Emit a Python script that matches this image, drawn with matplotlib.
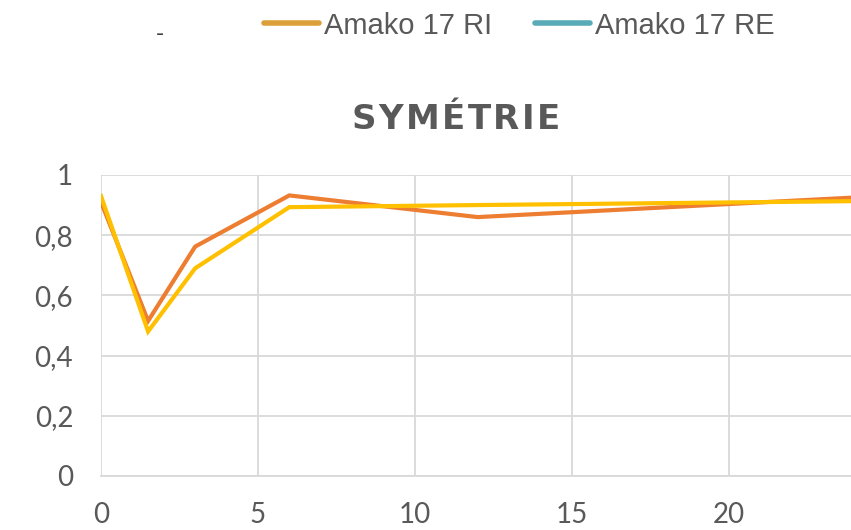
import matplotlib
matplotlib.use("Agg")
import matplotlib.pyplot as plt
from matplotlib.lines import Line2D

# symmetry ratio over time
hours = [0, 1.5, 3, 6, 12, 24]
sym_orange = [0.91, 0.515, 0.762, 0.932, 0.86, 0.925]
sym_yellow = [0.93, 0.48, 0.69, 0.893, 0.90, 0.913]

legend_labels = ["Amako 17 RI", "Amako 17 RE"]
legend_colors = ["#DCA03A", "#5AABB8"]

xticks = [0, 5, 10, 15, 20]
yticks = [0, 0.2, 0.4, 0.6, 0.8, 1.0]
ytick_labels = ["0", "0,2", "0,4", "0,6", "0,8", "1"]

title = "SYMÉTRIE"

grey = "#595959"
grid_c = "#D9D9D9"
W, H = 851, 530

fig = plt.figure(figsize=(W / 100, H / 100), dpi=100)
# plot area runs past the right edge of the canvas
ax = fig.add_axes([0.1187, 0.1019, 0.922, 0.568])

ax.plot(hours, sym_orange, color="#ED7D31", lw=3, solid_joinstyle="miter", zorder=3)
ax.plot(hours, sym_yellow, color="#FFC000", lw=3, solid_joinstyle="miter", zorder=4)

ax.set_xlim(0, 25)
ax.set_ylim(0, 1)
ax.set_xticks(xticks)
ax.set_yticks(yticks)
ax.set_yticklabels(ytick_labels)
ax.grid(True, color=grid_c, lw=1.3)
ax.axvline(25, color=grid_c, lw=1.3, zorder=0)
ax.set_axisbelow(True)
for s in ["top", "right", "left"]:
    ax.spines[s].set_visible(False)
ax.spines["bottom"].set_color(grid_c)
ax.spines["bottom"].set_linewidth(1.3)
ax.tick_params(length=0, labelsize=20, colors=grey)
ax.tick_params(axis="x", pad=19)
ax.tick_params(axis="y", pad=20)
for lab in ax.get_xticklabels() + ax.get_yticklabels():
    lab.set_fontfamily(["Lato", "DejaVu Sans"])

# title with extra letter spacing, laid out one glyph at a time
renderer = fig.canvas.get_renderer()
tracking = 2.5  # px between glyphs
glyphs = []
for ch in title:
    t = fig.text(0, 0, ch, fontsize=24.5, fontweight="bold", color=grey,
                 family="DejaVu Sans", ha="left", va="baseline")
    glyphs.append((t, t.get_window_extent(renderer).width))
total = sum(w for _, w in glyphs) + tracking * (len(glyphs) - 1)
x = 456 - total / 2
for t, w in glyphs:
    t.set_position((x / W, 1 - 129 / H))
    x += w + tracking

# legend row
legend_x = [264, 535]
for lx, lab, c in zip(legend_x, legend_labels, legend_colors):
    fig.add_artist(Line2D([lx / W, (lx + 55) / W], [1 - 23 / H] * 2,
                          transform=fig.transFigure, color=c, lw=4,
                          solid_capstyle="round"))
    fig.text((lx + 60) / W, 1 - 34 / H, lab, ha="left", va="baseline",
             fontsize=21, color=grey, family=["Liberation Sans", "DejaVu Sans"])

fig.text(0.188, 0.935, "-", ha="center", va="center", fontsize=16, color="#404040")

fig.savefig("out.png", dpi=100)
